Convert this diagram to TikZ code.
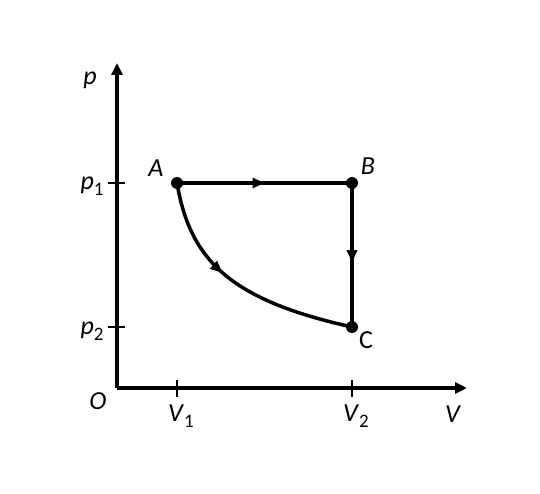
\documentclass[tikz,border=0pt]{standalone}
\usepackage{fontspec}
\setmainfont{Carlito}
\usetikzlibrary{arrows.meta,decorations.markings}
\newcommand{\lbl}[2]{\textit{#1}\raisebox{-0.45ex}{\fontsize{19}{20}\selectfont #2}}
\tikzset{
	axis/.style={line width=3.5pt, -{Triangle[length=12pt,width=11pt]}},
	path/.style={line width=3.5pt},
	midarrow/.style={postaction={decorate}, decoration={markings,
		mark=at position #1 with {\arrow{Triangle[length=12pt,width=10pt]}}}},
	dot/.style={circle, fill=black, inner sep=0pt, minimum size=12pt},
	txt/.style={font=\fontsize{26}{28}\selectfont, inner sep=1pt}
}
\begin{document}
\begin{tikzpicture}[x=1pt, y=-1pt]
	\useasboundingbox (0, 0) rectangle (540, 494);

	% axes
	\coordinate (O) at (117, 388);
	\coordinate (ytop) at (117, 63);
	\coordinate (xend) at (467, 388);
	\draw [axis] (O) -- (ytop);
	\draw [axis] (O) -- (xend);

	% ticks
	\draw [line width=2.5pt] (108, 183) -- (125, 183);
	\draw [line width=2.5pt] (108, 327) -- (125, 327);
	\draw [line width=2.5pt] (177, 380) -- (177, 397);
	\draw [line width=2.5pt] (352, 380) -- (352, 397);

	% states
	\node [dot] (A) at (177, 183) {};
	\node [dot] (B) at (352, 183) {};
	\node [dot] (C) at (352, 327) {};

	\draw [path, midarrow=0.5]	(A.center) -- (B.center);
	\draw [path, midarrow=0.55]	(B.center) -- (C.center);
	\draw [path, midarrow=0.42]	(A.center) .. controls (190, 260) and (230, 300) .. (C.center);

	% labels
	\node [txt] (lA) at (156, 168) {\textit{A}};
	\node [txt] (lB) at (368, 166) {\textit{B}};
	\node [txt] (lC) at (366, 340) {C};
	\node [txt] (lp) at (90, 80) {\textit{p}};
	\node [txt] (lp1) at (92, 186) {\lbl{p}{1}};
	\node [txt] (lp2) at (92, 331) {\lbl{p}{2}};
	\node [txt] (lO) at (98, 401) {\textit{O}};
	\node [txt] (lV1) at (181, 416) {\lbl{V}{1}};
	\node [txt] (lV2) at (356, 416) {\lbl{V}{2}};
	\node [txt] (lV) at (453, 414) {\textit{V}};
\end{tikzpicture}
\end{document}
